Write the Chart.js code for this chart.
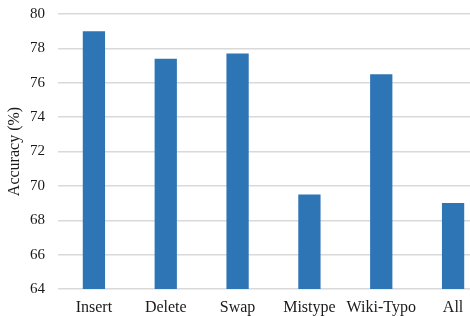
<!DOCTYPE html>
<html>
<head>
<meta charset="utf-8">
<script src="https://cdn.jsdelivr.net/npm/chart.js@4/dist/chart.umd.min.js"></script>
<style>
html,body{margin:0;padding:0;background:#fff;overflow:hidden;width:470px;height:316px;}
#wrap{position:relative;width:489px;height:316px;}
</style>
</head>
<body>
<div id="wrap"><canvas id="c" width="489" height="316"></canvas></div>
<script>
const categories = ["Insert", "Delete", "Swap", "Mistype", "Wiki-Typo", "All"];
const accuracy = [79.0, 77.4, 77.7, 69.5, 76.5, 69.0];
const yTicks = [64, 66, 68, 70, 72, 74, 76, 78, 80];

new Chart(document.getElementById('c'), {
  type: 'bar',
  data: {
    labels: categories,
    datasets: [{
      data: accuracy,
      backgroundColor: '#2E75B6',
      borderWidth: 0,
      categoryPercentage: 1.0,
      barPercentage: 0.31
    }]
  },
  options: {
    responsive: false,
    animation: false,
    layout: { padding: { top: 14, right: 0, left: 0, bottom: 0 } },
    plugins: { legend: { display: false }, tooltip: { enabled: false } },
    scales: {
      x: {
        grid: { display: false, drawTicks: false },
        border: { display: false },
        ticks: { color: '#1a1a1a', font: { family: "'Liberation Serif', serif", size: 16 }, padding: 9, maxRotation: 0, autoSkip: false },
        afterFit: s => { s.height = 27; s.paddingLeft = 0; s.paddingRight = 0; }
      },
      y: {
        min: 64, max: 80,
        afterBuildTicks: s => { s.ticks = yTicks.map(v => ({ value: v })); },
        grid: { color: '#d9d9d9', lineWidth: 1.5, drawTicks: false },
        border: { display: false },
        ticks: { color: '#1a1a1a', font: { family: "'Liberation Serif', serif", size: 15 }, padding: 13 },
        title: { display: true, text: 'Accuracy (%)', color: '#1a1a1a', font: { family: "'Liberation Serif', serif", size: 16 }, padding: { top: 5, bottom: 0 } },
        afterFit: s => { s.width = 58; s.paddingTop = 0; s.paddingBottom = 0; }
      }
    }
  }
});
</script>
</body>
</html>
